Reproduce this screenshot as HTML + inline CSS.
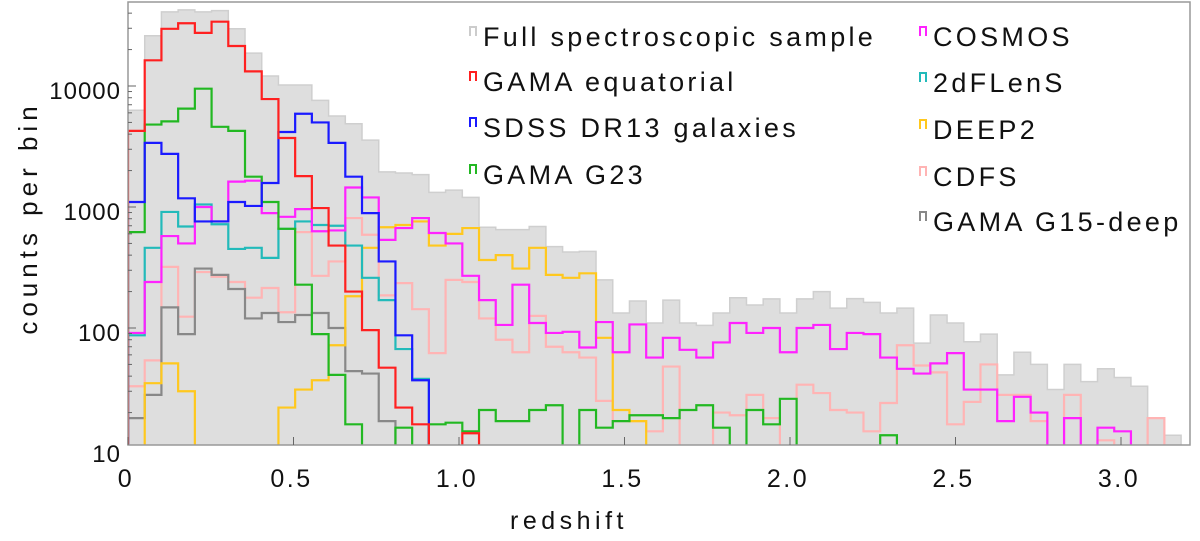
<!DOCTYPE html>
<html><head><meta charset="utf-8"><style>
body{margin:0;background:#fff;width:1200px;height:536px;overflow:hidden}
svg text{font-family:"Liberation Sans",sans-serif;fill:#111}
</style></head><body>
<svg id="chart" width="1200" height="536" xmlns="http://www.w3.org/2000/svg"></svg>
<script>
const xTicks=[0,0.5,1.0,1.5,2.0,2.5,3.0];
const xTickLabels=["0","0.5","1.0","1.5","2.0","2.5","3.0"];
const yTicks=[10,100,1000,10000];
const yTickLabels=["10","100","1000","10000"];
const binWidth=0.0505;
const fullSample=[6300,26000,41000,42600,41000,42000,29700,18700,12100,10200,10200,7600,5650,4870,3570,1950,1910,1850,1320,1380,1200,680,650,650,690,470,425,430,250,133,167,110,170,110,105,133,178,155,174,133,174,200,146,175,163,133,146,75,128,110,77,89,41,63,50,31,50,36,46,39,33,18,13];
const gamaEq=[4260,16300,29700,33000,27500,34000,21400,13200,7800,3720,1800,980,480,200,96,47,22,16,5,5,13.5];
const sdss=[1100,3390,2750,1180,760,760,1100,1020,1580,4170,5900,5000,3390,1780,890,355,87,37];
const g23=[620,4800,5100,6500,9500,4600,4260,1780,1100,660,228,89,41,16,5,10,15,5,16,16.5,14,21,17,17,21,23,5,21,15,17,19,19,18,21,23,15,5,21,16,26,5,5,5,5,10,13];
const cosmos=[91,240,575,500,1000,760,1620,1650,890,830,960,630,640,1450,1200,535,670,810,610,500,270,170,106,228,110,91,93,69,112,63,107,57,83,66,57,76,110,91,100,63,100,106,67,91,89,57,46,42,51,62,31,31,17,27,20,10,18,5,15,14];
const dflens=[87,460,910,690,1050,720,450,460,380,660,760,710,700,480,260,170,67,38];
const deep2=[5,35,51,30,10,5,5,5,5,22,31,37,72,183,460,680,710,760,480,600,670,365,400,310,460,275,260,283,83,21,17];
const cdfs=[33,54,320,124,290,265,240,178,214,135,620,270,355,810,590,186,235,143,62,250,240,120,80,63,126,70,63,57,25,17,17,14,48,5,5,20,19,28,18,5,34,29,21,20,14,24,72,49,43,16,24.5,50,28,28,17,5,28,5,11.8,10.5,5,18];
const g15deep=[18,28,148,89,310,275,210,120,133,112,128,133,100,44,42,17,9];

const NS="http://www.w3.org/2000/svg";
const svg=document.getElementById('chart');
const L=128,R=1190,T=2,B=445;
function X(v){return 128+331*v;}
function Y(v){return 449-121*Math.log10(v/10);}
function el(tag,attrs,parent){const e=document.createElementNS(NS,tag);for(const k in attrs)e.setAttribute(k,attrs[k]);(parent||svg).appendChild(e);return e;}
const clipDef=el('defs',{});
const cp=el('clipPath',{id:'plotclip'},clipDef);
el('rect',{x:L,y:T,width:R-L,height:B-T},cp);
const plot=el('g',{'clip-path':'url(#plotclip)'});


function stepPath(vals,fill){
  let d='M'+X(0)+','+(B+5);
  vals.forEach((v,i)=>{const y=v>0?Math.min(Y(v),B+5):B+5;d+=' L'+X(i*binWidth)+','+y+' L'+X((i+1)*binWidth)+','+y;});
  d+=' L'+X(vals.length*binWidth)+','+(B+5);
  if(fill)d+=' Z';
  return d;
}
const full=el('path',{d:stepPath(fullSample,true),fill:'#dedede',stroke:'#cfcfcf','stroke-width':1.5},plot);


const series=[
 ['cdfs-histogram',cdfs,'#ffb4b4'],
 ['g15-deep-histogram',g15deep,'#888888'],
 ['deep2-histogram',deep2,'#ffc81e'],
 ['2dflens-histogram',dflens,'#22baba'],
 ['cosmos-histogram',cosmos,'#ff22ff'],
 ['g23-histogram',g23,'#22b822'],
 ['sdss-histogram',sdss,'#1a1aff'],
 ['gama-equatorial-histogram',gamaEq,'#ff2020']];
series.forEach(s=>{
  const p=el('path',{d:stepPath(s[1],false),fill:'none',stroke:s[2],'stroke-width':2.2},plot);
  
  
});
const frame=el('rect',{x:L,y:T,width:R-L,height:B-T,fill:'none',stroke:'#999','stroke-width':1.5});


for(let d=1;d<=4;d++){for(let m=1;m<10;m++){const v=m*Math.pow(10,d);const y=Y(v);if(y<T||y>B)continue;
  el('line',{x1:L,x2:L+(m===1?8:4),y1:y,y2:y,stroke:'#666','stroke-width':1});}}
yTicks.forEach((v,i)=>{
  const t=el('text',{x:121,y:Y(v)+13,'text-anchor':'end','font-size':24,'letter-spacing':1});
  t.textContent=yTickLabels[i];
  
  
});
xTicks.forEach((v,i)=>{
  el('line',{x1:X(v),x2:X(v),y1:B,y2:B-8,stroke:'#666','stroke-width':1});
  const t=el('text',{x:X(v)-2,y:487,'text-anchor':'middle','font-size':25,'letter-spacing':2.5});
  t.textContent=xTickLabels[i];
  
  
});
const xt=el('text',{x:569,y:529,'text-anchor':'middle','font-size':25,'letter-spacing':4.5});
xt.textContent='redshift';


const yt=el('text',{x:0,y:0,'text-anchor':'middle','font-size':26,'letter-spacing':5,transform:'translate(37,218) rotate(-90)'});
yt.textContent='counts per bin';


const legendItems=[
 ['Full spectroscopic sample','#cccccc',470,37],['GAMA equatorial','#ff2020',470,82],['SDSS DR13 galaxies','#1a1aff',470,128],['GAMA G23','#22b822',470,175],
 ['COSMOS','#ff22ff',920,37],['2dFLenS','#22baba',920,83],['DEEP2','#ffc81e',920,130],['CDFS','#ffb4b4',920,177],['GAMA G15-deep','#888888',920,222]];
legendItems.forEach(it=>{
  const g=el('g',{});
  
  
  el('path',{d:`M${it[2]},${it[3]-1} L${it[2]},${it[3]-10} L${it[2]+6},${it[3]-10} L${it[2]+6},${it[3]-1}`,fill:'none',stroke:it[1],'stroke-width':2},g);
  const t=el('text',{x:it[2]+13,y:it[3]+9,'font-size':27,'letter-spacing':3.3},g);
  t.textContent=it[0];
});
</script>
</body></html>
